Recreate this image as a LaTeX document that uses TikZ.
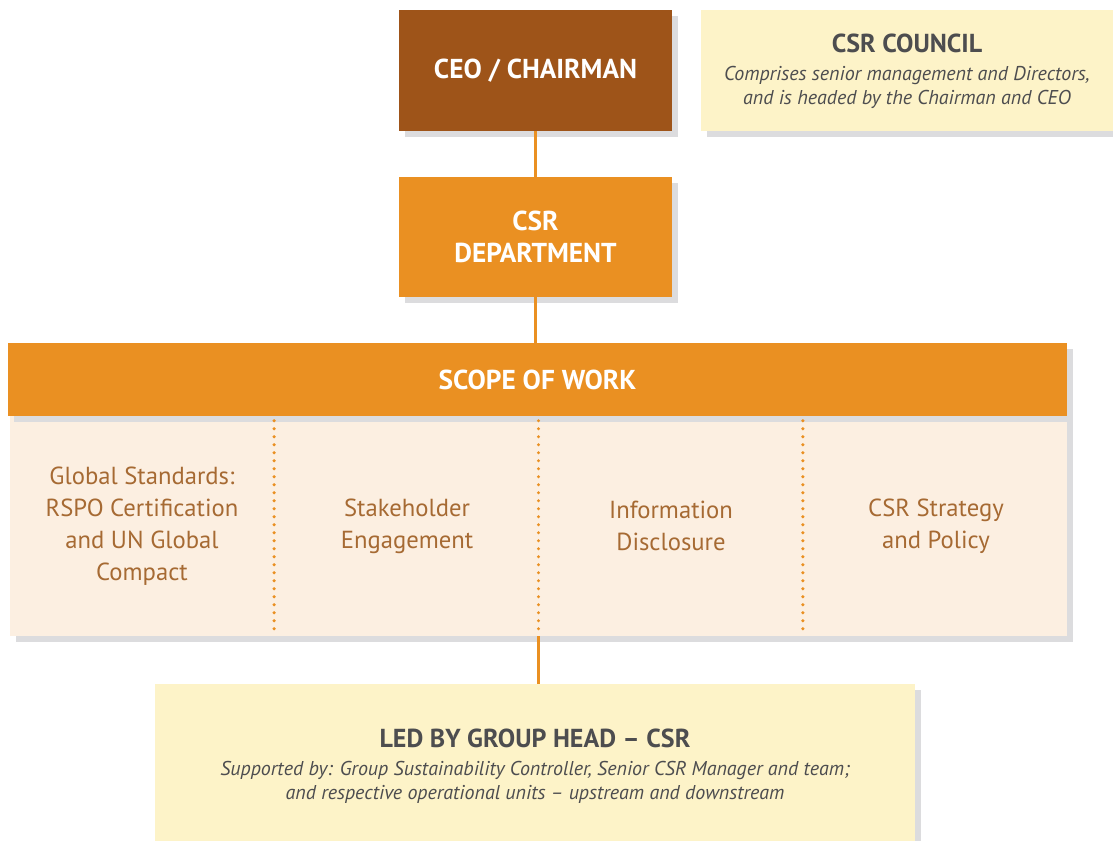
\documentclass[tikz,border=0pt]{standalone}
\usepackage{fontspec}
\setmainfont{PT Sans}
\usetikzlibrary{shadows,calc}

\definecolor{ceobrown}{HTML}{9E5419}
\definecolor{csrorange}{HTML}{EA9022}
\definecolor{scopecream}{HTML}{FCEFE1}
\definecolor{councilyellow}{HTML}{FDF3C8}
\definecolor{shadowgray}{HTML}{DCDCDE}
\definecolor{textgray}{HTML}{4D4D4F}
\definecolor{areabrown}{HTML}{A66A33}

\newcommand{\titlefont}{\fontsize{19.5}{18}\selectfont\bfseries\upshape}
\newcommand{\notefont}{\fontsize{15}{18}\selectfont\mdseries\itshape}

\begin{document}
\begin{tikzpicture}[x=0.75pt,y=0.75pt,yscale=-1,xscale=1,
    boxshadow/.style={drop shadow={shadow xshift=4.5pt,shadow yshift=-4.5pt,fill=shadowgray,opacity=1}},
    mainbox/.style={boxshadow,inner sep=0pt,align=center,text=white,font=\fontsize{20.5}{24}\selectfont\bfseries},
    notebox/.style={boxshadow,fill=councilyellow,inner sep=0pt},
    notetext/.style={align=center,text=textgray,font=\notefont},
    areatext/.style={align=center,text=areabrown,font=\fontsize{18.5}{24}\selectfont},
    link/.style={csrorange,line width=2pt},
    divider/.style={csrorange,line width=2.6pt,dash pattern=on 0pt off 6pt,line cap=round}]
\useasboundingbox (0,0) rectangle (1113,840);

% top row
\node[mainbox,fill=ceobrown,minimum width=204.75pt,minimum height=90.75pt] (ceo) at (535.5,70.5) {CEO / CHAIRMAN};
\node[notebox,minimum width=309pt,minimum height=90.75pt] (council) at (907,70.5) {};
\node[notetext] (counciltext) at (907,71)
  {\titlefont CSR COUNCIL\\[3pt]
   \notefont Comprises senior management and Directors,\\\notefont and is headed by the Chairman and CEO};

% department
\node[mainbox,fill=csrorange,minimum width=204.75pt,minimum height=90pt] (dept) at (535.5,237) {CSR\\DEPARTMENT};

% scope of work
\node[boxshadow,fill=scopecream,minimum width=792.75pt,minimum height=165pt,inner sep=0pt] (body) at (538.5,526) {};
\node[mainbox,fill=csrorange,minimum width=794.25pt,minimum height=54.75pt] (scope) at (537.5,379.5) {SCOPE OF WORK};

\foreach \f in {0.25,0.5,0.75}
  \draw[divider] ($(body.north west)!\f!(body.north east)+(0,5)$) -- ($(body.south west)!\f!(body.south east)$);

\node[areatext] (global) at (142,526) {Global Standards:\\RSPO Certification\\and UN Global\\Compact};
\node[areatext] (stake) at (407,526) {Stakeholder\\Engagement};
\node[areatext] (info) at (671,526) {Information\\Disclosure};
\node[areatext] (strategy) at (936,526) {CSR Strategy\\and Policy};

% group head
\node[notebox,minimum width=570pt,minimum height=124.5pt] (head) at (535,767) {};
\node[notetext] (headtext) at (535,766)
  {\titlefont LED BY GROUP HEAD -- CSR\\[3pt]
   \notefont Supported by: Group Sustainability Controller, Senior CSR Manager and team;\\\notefont and respective operational units -- upstream and downstream};

% links
\draw[link] (ceo) -- (dept);
\draw[link] (dept) -- (dept|-scope.north);
\draw[link] (body.south) -- (body.south|-head.north);
\end{tikzpicture}
\end{document}
